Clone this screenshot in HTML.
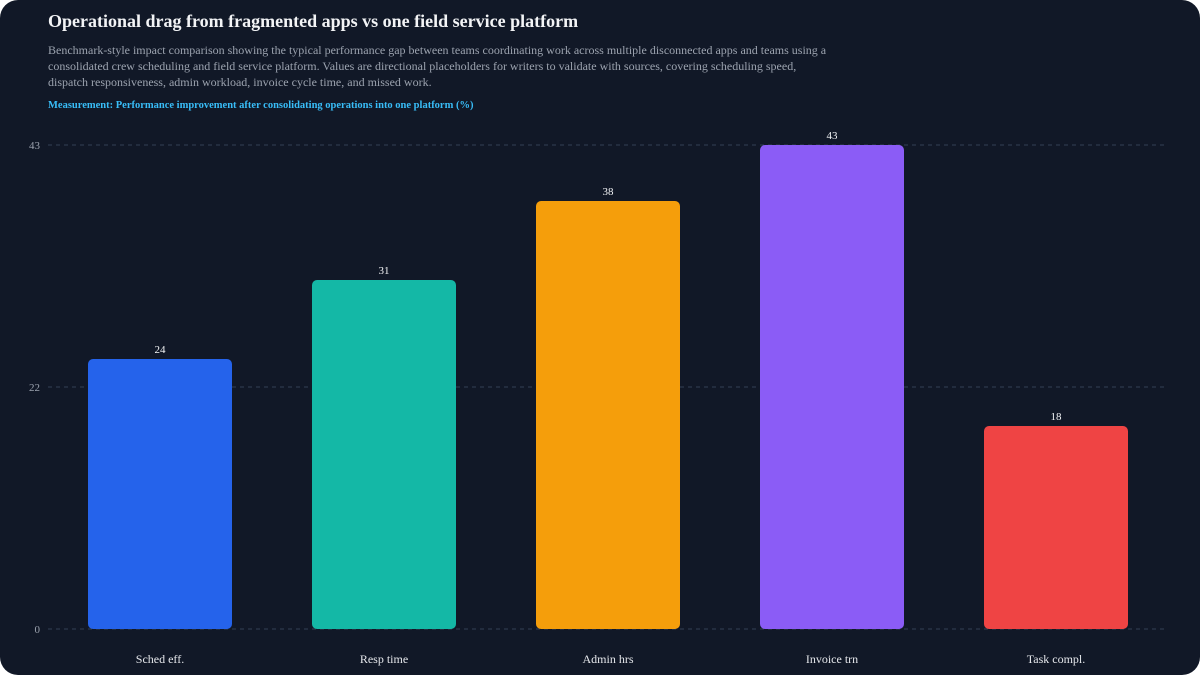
<!DOCTYPE html>
<html><head><meta charset="utf-8"><style>
html,body{margin:0;padding:0;background:#fff;}
.c{position:relative;width:1200px;height:675px;background:#111827;border-radius:18px;overflow:hidden;font-family:"Liberation Serif",serif;}
.t{position:absolute;left:48px;top:11px;font-size:18px;font-weight:bold;color:#f3f4f6;}
.s{position:absolute;left:48px;top:42px;width:790px;font-size:12px;line-height:16px;color:#9ca3af;}
.m{position:absolute;left:48px;top:100px;font-size:10.5px;font-weight:bold;color:#38bdf8;}
</style></head><body><div class="c">
<div class="t">Operational drag from fragmented apps vs one field service platform</div>
<div class="s">Benchmark-style impact comparison showing the typical performance gap between teams coordinating work across multiple disconnected apps and teams using a consolidated crew scheduling and field service platform. Values are directional placeholders for writers to validate with sources, covering scheduling speed, dispatch responsiveness, admin workload, invoice cycle time, and missed work.</div>
<div class="m">Measurement: Performance improvement after consolidating operations into one platform (%)</div>
<svg width="1200" height="675" style="position:absolute;left:0;top:0" font-family="Liberation Serif, serif">
<g stroke="#334155" stroke-dasharray="4 4" stroke-width="1">
<line x1="48" y1="145" x2="1165" y2="145"/><line x1="48" y1="387" x2="1165" y2="387"/><line x1="48" y1="629" x2="1165" y2="629"/></g>
<g fill="#9ca3af" font-size="11" text-anchor="end"><text x="40" y="149">43</text><text x="40" y="391">22</text><text x="40" y="633">0</text></g>
<rect x="88" y="359" width="144" height="270" rx="5" fill="#2563eb"/>
<rect x="312" y="280" width="144" height="349" rx="5" fill="#14b8a6"/>
<rect x="536" y="201" width="144" height="428" rx="5" fill="#f59e0b"/>
<rect x="760" y="145" width="144" height="484" rx="5" fill="#8b5cf6"/>
<rect x="984" y="426" width="144" height="203" rx="5" fill="#ef4444"/>
<g fill="#f3f4f6" font-size="11" text-anchor="middle">
<text x="160" y="353">24</text><text x="384" y="274">31</text><text x="608" y="195">38</text><text x="832" y="139">43</text><text x="1056" y="420">18</text></g>
<g fill="#e5e7eb" font-size="12" text-anchor="middle">
<text x="160" y="663">Sched eff.</text><text x="384" y="663">Resp time</text><text x="608" y="663">Admin hrs</text><text x="832" y="663">Invoice trn</text><text x="1056" y="663">Task compl.</text></g>
</svg></div></body></html>
